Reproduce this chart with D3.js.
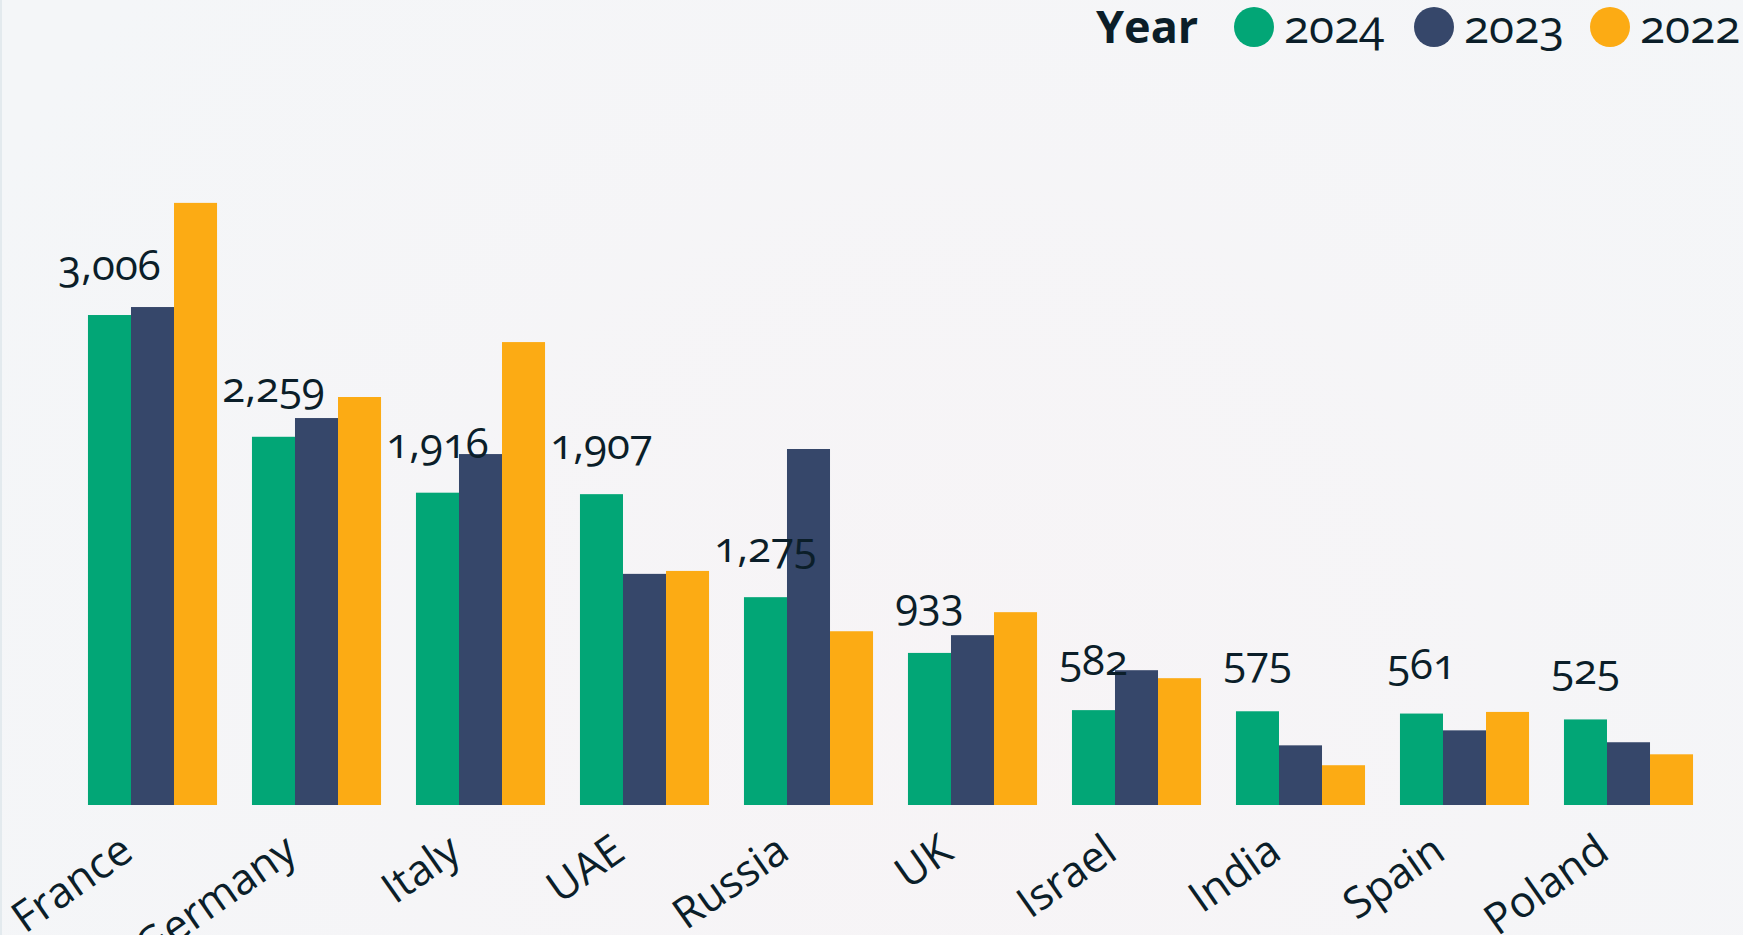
<!DOCTYPE html>
<html>
<head>
<meta charset="utf-8">
<script src="https://cdn.jsdelivr.net/npm/d3@7"></script>
<style>
  html, body { margin: 0; padding: 0; overflow: hidden; }
  body { width: 1743px; height: 935px; }
  text { font-family: "Open Sans", "Noto Sans", sans-serif; font-variant-numeric: oldstyle-nums; fill: #0b1e29; }
</style>
</head>
<body>
<div id="chart"></div>
<script>
// countries, biggest 2024 value first
const countries = ["France", "Germany", "Italy", "UAE", "Russia", "UK", "Israel", "India", "Spain", "Poland"];
const years = ["2024", "2023", "2022"];
const values2024 = [3006, 2259, 1916, 1907, 1275, 933, 582, 575, 561, 525];
const values2023 = [3055, 2374, 2153, 1418, 2184, 1042, 827, 366, 458, 385];
const values2022 = [3694, 2503, 2840, 1436, 1066, 1183, 778, 244, 571, 311];
const yearColors = ["#02a676", "#36476a", "#fcab14"];

const width = 1743, height = 935;
const series = [values2024, values2023, values2022];
const data = countries.map((c, i) => ({ country: c, vals: years.map((y, j) => ({ year: y, value: series[j][i] })) }));

const svg = d3.select("#chart").append("svg")
    .attr("width", width)
    .attr("height", height);

// soft background
const defs = svg.append("defs");
const grad = defs.append("radialGradient")
    .attr("id", "bg")
    .attr("gradientUnits", "userSpaceOnUse")
    .attr("cx", 950).attr("cy", 720).attr("r", 1100);
grad.append("stop").attr("offset", "0%").attr("stop-color", "#f7f4f6");
grad.append("stop").attr("offset", "100%").attr("stop-color", "#f4f6f8");
svg.append("rect").attr("width", width).attr("height", height).attr("fill", "url(#bg)");
svg.append("rect").attr("x", 0).attr("y", 0).attr("width", 2).attr("height", height).attr("fill", "#e3eaee");

const x0 = d3.scaleBand()
    .domain(countries)
    .range([70.5, 1710.5])
    .paddingInner(0.213)
    .paddingOuter(0.1065);

const x1 = d3.scaleBand()
    .domain(years)
    .range([0, x0.bandwidth()]);

const y = d3.scaleLinear()
    .domain([0, 4000])
    .range([805, 153]);

const color = d3.scaleOrdinal().domain(years).range(yearColors);

const groups = svg.selectAll(".group")
    .data(data)
    .enter()
    .append("g")
    .attr("class", "group")
    .attr("transform", d => "translate(" + x0(d.country) + ",0)");

groups.selectAll("rect")
    .data(d => d.vals)
    .enter()
    .append("rect")
    .attr("x", d => x1(d.year))
    .attr("y", d => y(d.value))
    .attr("width", x1.bandwidth())
    .attr("height", d => y(0) - y(d.value))
    .attr("fill", d => color(d.year));

// value labels for 2024 only
groups.append("text")
    .attr("x", x1("2024") + x1.bandwidth() / 2)
    .attr("y", d => y(d.vals[0].value) - 35)
    .attr("text-anchor", "middle")
    .style("font-size", "42px")
    .text(d => d3.format(",")(d.vals[0].value));

// category labels (the long ones run off the bottom, as in the original)
svg.selectAll(".cat")
    .data(countries)
    .enter()
    .append("text")
    .attr("class", "cat")
    .attr("text-anchor", "end")
    .attr("transform", d => "translate(" + (x0(d) + x0.bandwidth() / 2 - 17) + ",857) rotate(-35)")
    .style("font-size", "43px")
    .text(d => d);

// legend
const legend = svg.append("g").attr("transform", "translate(0,27)");
legend.append("text")
    .attr("x", 1096)
    .attr("y", 16)
    .style("font-size", "45px")
    .style("font-weight", "700")
    .text("Year");

const legendX = [1254, 1434, 1610];
const item = legend.selectAll(".item")
    .data(years)
    .enter()
    .append("g")
    .attr("class", "item")
    .attr("transform", (d, i) => "translate(" + legendX[i] + ",0)");
item.append("circle")
    .attr("r", 20)
    .attr("fill", d => color(d));
item.append("text")
    .attr("x", 30)
    .attr("y", 16)
    .style("font-size", "46px")
    .text(d => d);
</script>
</body>
</html>
